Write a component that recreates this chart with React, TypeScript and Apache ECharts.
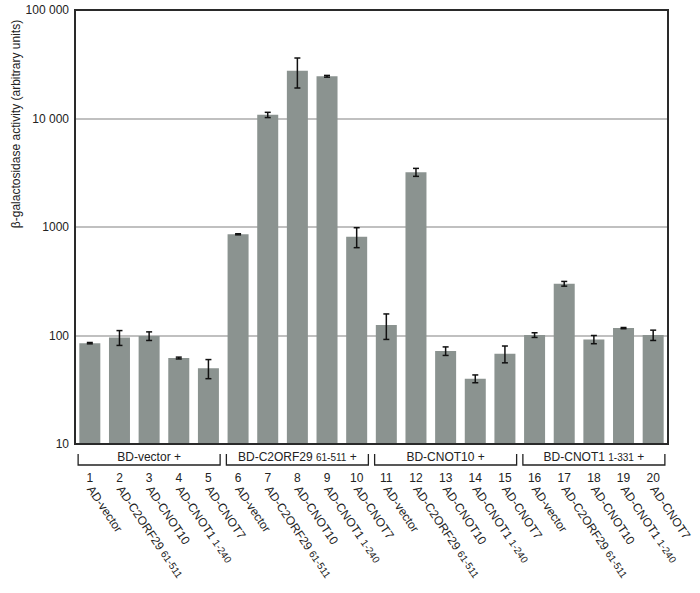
import React, { useEffect, useRef } from "react";
import * as echarts from "echarts";

const laneNumbers = ["1","2","3","4","5","6","7","8","9","10","11","12","13","14","15","16","17","18","19","20"];
const preyNames = [
  "AD-vector", "AD-C2ORF29 61-511", "AD-CNOT10", "AD-CNOT1 1-240", "AD-CNOT7",
  "AD-vector", "AD-C2ORF29 61-511", "AD-CNOT10", "AD-CNOT1 1-240", "AD-CNOT7",
  "AD-vector", "AD-C2ORF29 61-511", "AD-CNOT10", "AD-CNOT1 1-240", "AD-CNOT7",
  "AD-vector", "AD-C2ORF29 61-511", "AD-CNOT10", "AD-CNOT1 1-240", "AD-CNOT7",
];
const activity = [85, 96, 99, 62, 50, 857, 10800, 27600, 24500, 815, 125, 3200, 72, 40, 68, 101, 300, 92, 117, 101];
const activityError = [1.2, 15, 9, 1.2, 10, 10, 600, 8500, 450, 170, 33, 270, 6.5, 3.3, 12, 5, 15, 8, 1.5, 11];
const baitGroups = ["BD-vector +", "BD-C2ORF29 61-511 +", "BD-CNOT10 +", "BD-CNOT1 1-331 +"];
const yTicks = [10, 100, 1000, 10000, 100000];
const yTickLabels = ["10", "100", "1000", "10 000", "100 000"];

const FONT = "'Liberation Sans', Arial, Helvetica, sans-serif";
const GRID_LEFT = 75;
const GRID_TOP = 10;
const GRID_W = 593;
const GRID_H = 434;

function richName(s: string): string {
  const m = s.match(/^(.*?) (\d+-\d+)( \+)?$/);
  if (m) return m[1] + " {s|" + m[2] + "}" + (m[3] || "");
  return s;
}

export default function App() {
  const ref = useRef<HTMLDivElement>(null);
  useEffect(() => {
    if (!ref.current) return;
    const chart = echarts.init(ref.current, null, { renderer: "svg" });
    const band = GRID_W / laneNumbers.length;
    const groupSize = laneNumbers.length / baitGroups.length;
    const brackets: any[] = [];
    baitGroups.forEach((g, i) => {
      const cx = GRID_LEFT + band * (groupSize * i + groupSize / 2);
      const half = 71;
      brackets.push({
        type: "polyline",
        shape: { points: [[cx - half, 454], [cx - half, 465], [cx + half, 465], [cx + half, 454]] },
        style: { stroke: "#222", lineWidth: 1.3, fill: "none" },
      });
      brackets.push({
        type: "text",
        x: cx,
        y: 457,
        style: {
          text: richName(g),
          align: "center",
          verticalAlign: "middle",
          fontFamily: FONT,
          fontSize: 12,
          fill: "#222",
          rich: { s: { fontSize: 10, fontFamily: FONT, fill: "#222" } },
        } as any,
      });
    });

    const errData = activity.map((v, i) => [i, v - activityError[i], v + activityError[i]]);

    chart.setOption({
      animation: false,
      grid: { left: GRID_LEFT, top: GRID_TOP, width: GRID_W, height: GRID_H },
      xAxis: [
        {
          type: "category",
          data: laneNumbers,
          position: "bottom",
          axisLine: { show: false },
          axisTick: { show: false },
          axisLabel: { margin: 28, fontSize: 12, color: "#222", fontFamily: FONT, interval: 0 },
        },
        {
          type: "category",
          data: preyNames,
          position: "bottom",
          offset: 0,
          axisLine: { show: false },
          axisTick: { show: false },
          axisLabel: {
            margin: 43,
            rotate: -56,
            interval: 0,
            fontSize: 12,
            color: "#222",
            fontFamily: FONT,
            formatter: (v: string) => richName(v),
            rich: { s: { fontSize: 10, fontFamily: FONT, color: "#222" } },
          },
        },
      ],
      yAxis: {
        type: "log",
        logBase: 10,
        min: 10,
        max: 100000,
        axisLine: { show: false },
        axisTick: { show: false },
        splitLine: { show: true, lineStyle: { color: "#ababab", width: 1.5 } },
        axisLabel: {
          margin: 6,
          fontSize: 12,
          color: "#222",
          fontFamily: FONT,
          formatter: (v: number) => {
            const idx = yTicks.findIndex((t) => Math.abs(t - v) / t < 1e-6);
            return idx >= 0 ? yTickLabels[idx] : "";
          },
        },
      },
      series: [
        {
          type: "bar",
          data: activity,
          barWidth: 21,
          itemStyle: { color: "#8b9390" },
          xAxisIndex: 0,
          z: 2,
        },
        {
          type: "custom",
          xAxisIndex: 0,
          yAxisIndex: 0,
          z: 3,
          data: errData,
          renderItem: (params: any, api: any) => {
            const idx = api.value(0);
            const lo = api.coord([idx, api.value(1)]);
            const hi = api.coord([idx, api.value(2)]);
            const cap = 3;
            const st = { stroke: "#111", lineWidth: 1.5 };
            return {
              type: "group",
              children: [
                { type: "line", shape: { x1: lo[0], y1: lo[1], x2: hi[0], y2: hi[1] }, style: st },
                { type: "line", shape: { x1: lo[0] - cap, y1: lo[1], x2: lo[0] + cap, y2: lo[1] }, style: st },
                { type: "line", shape: { x1: hi[0] - cap, y1: hi[1], x2: hi[0] + cap, y2: hi[1] }, style: st },
              ],
            };
          },
        },
      ],
      graphic: [
        {
          type: "rect",
          z: 100,
          shape: { x: GRID_LEFT, y: GRID_TOP, width: GRID_W, height: GRID_H },
          style: { fill: "none", stroke: "#2a2a2a", lineWidth: 2 },
        },
        {
          type: "text",
          x: 16,
          y: 124,
          rotation: Math.PI / 2,
          style: {
            text: "β-galactosidase activity (arbitrary units)",
            align: "center",
            verticalAlign: "middle",
            fontFamily: FONT,
            fontSize: 12,
            fill: "#222",
          },
        },
        ...brackets,
      ],
    });
    return () => chart.dispose();
  }, []);
  return (
    <div
      ref={ref}
      style={{ position: "fixed", left: 0, top: 0, width: 700, height: 593, background: "#fff" }}
    />
  );
}
